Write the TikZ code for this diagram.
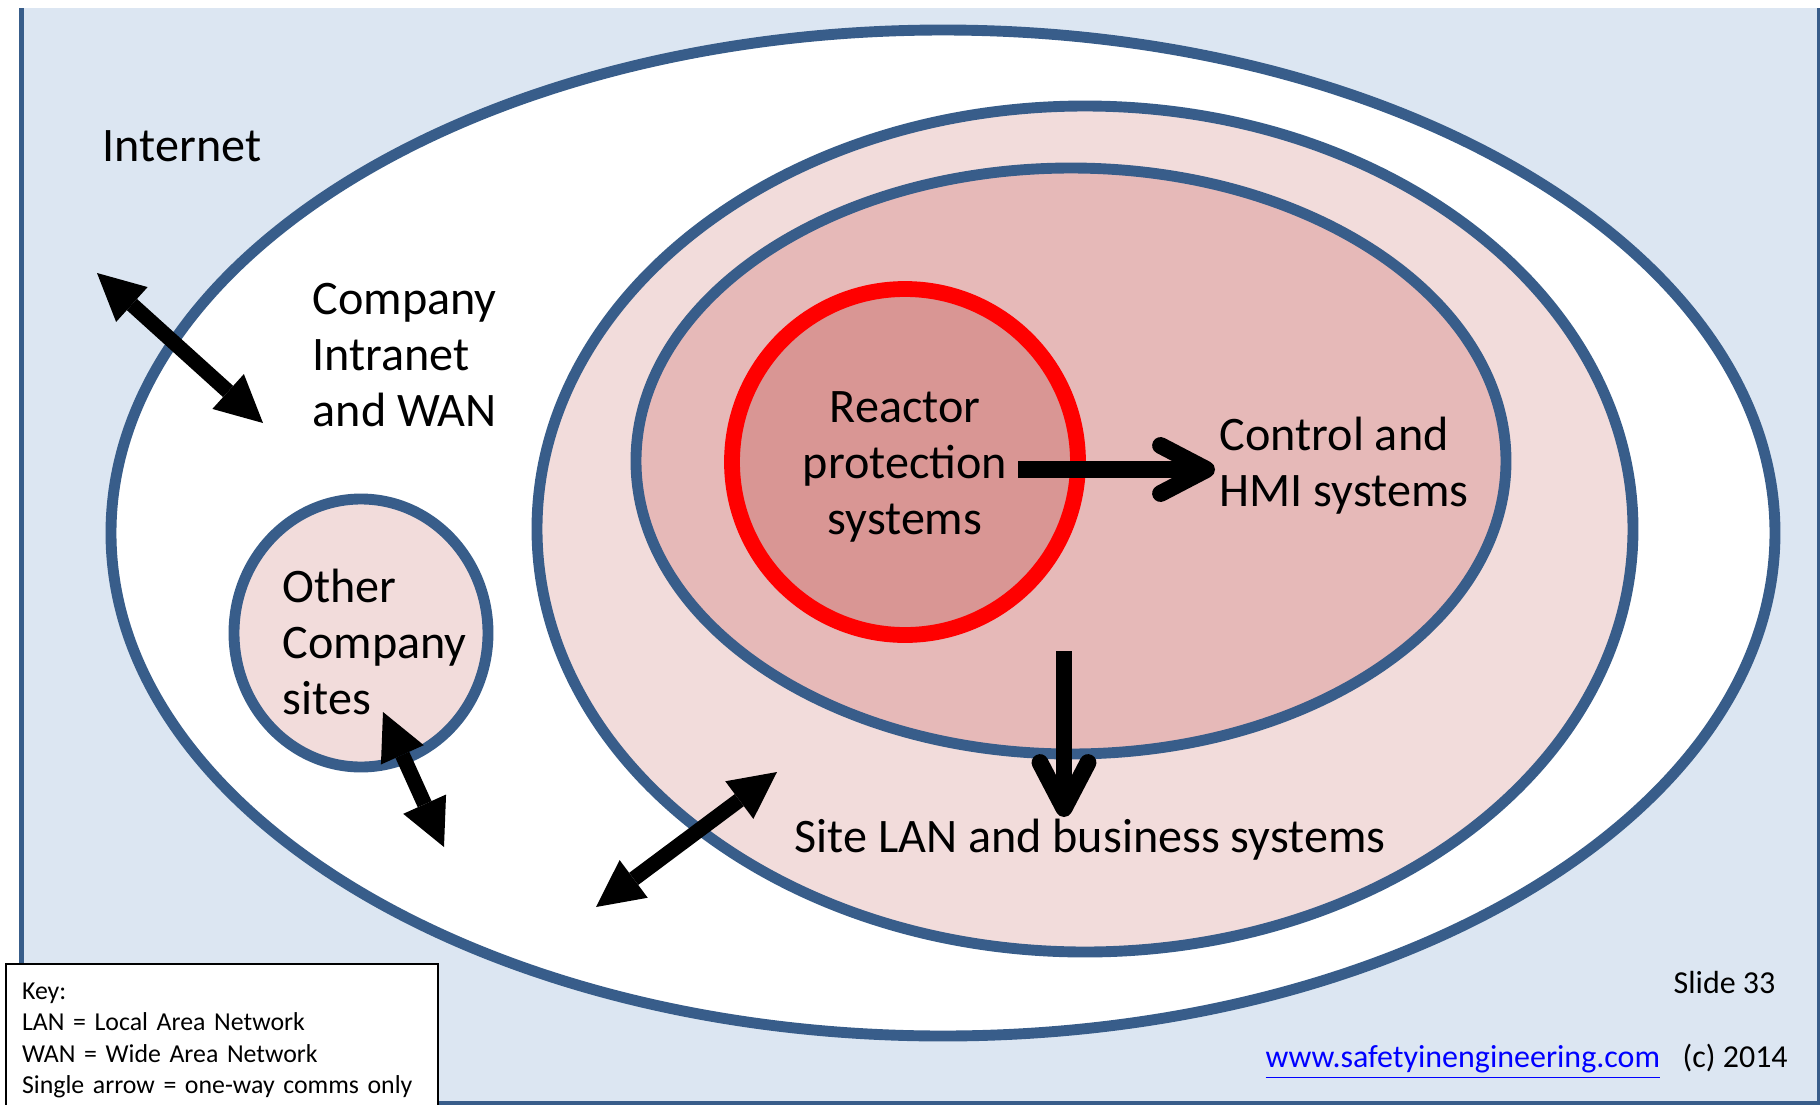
\documentclass[tikz,border=0pt]{standalone}
\usepackage{fontspec}
\setmainfont{Carlito}
\usepackage{tikz}
\usetikzlibrary{arrows.meta, positioning, shapes.geometric}
\definecolor{slideblue}{RGB}{220,230,242}
\definecolor{ringblue}{RGB}{56,93,138}
\definecolor{lanpink}{RGB}{242,220,219}
\definecolor{hmipink}{RGB}{230,185,184}
\definecolor{rpspink}{RGB}{217,150,148}

\begin{document}
\begin{tikzpicture}[x=1cm, y=-1cm,
    zone/.style={ellipse, draw=ringblue, line width=3.1pt, inner sep=0pt},
    lbl/.style={font=\fontsize{13.7}{15.9}\selectfont, inner sep=0pt},
    small/.style={font=\fontsize{9.1}{10.9}\selectfont, inner sep=0pt},
    dbl/.style={{Triangle[length=4.7mm,width=4.7mm,line width=0pt]}-{Triangle[length=4.7mm,width=4.7mm,line width=0pt]}, line width=4.3pt},
    one/.style={-{Straight Barb[round,length=4.6mm,width=4.8mm]}, line width=4.8pt}
  ]
  \useasboundingbox (0,0) rectangle (18.2,11.05);
  \fill[slideblue] (0.215,0.08) rectangle (18.19,11.03);
  \draw[ringblue, line width=1.4pt] (0.215,0.08) -- (0.215,11.03) -- (18.19,11.03) -- (18.19,0.08);

  % nested zones
  \node[zone, fill=white, minimum width=16.64cm, minimum height=10.06cm] (wan) at (9.43,5.33) {};
  \node[zone, fill=lanpink, minimum width=10.96cm, minimum height=8.46cm] (lan) at (10.85,5.29) {};
  \node[zone, fill=hmipink, minimum width=8.70cm, minimum height=5.86cm] (hmi) at (10.71,4.61) {};
  \node[circle, draw=red, fill=rpspink, line width=4.5pt, minimum size=3.46cm, inner sep=0pt] (rps) at (9.05,4.62) {};
  \node[zone, fill=lanpink, minimum width=2.54cm, minimum height=2.68cm] (sites) at (3.61,6.33) {};

  \node[lbl, anchor=west] (tInternet) at (1.02,1.46) {Internet};
  \node[lbl, anchor=west, align=left] (tWan) at (3.12,3.55) {Company\\Intranet\\and WAN};
  \node[lbl, anchor=west, align=left] (tSites) at (2.82,6.42) {Other\\Company\\sites};
  \node[lbl, align=center] (tRps) at (9.05,4.67) {Reactor\\protection\\systems};
  \node[lbl, anchor=west, align=left] (tHmi) at (12.19,4.66) {Control and\\HMI systems};
  \node[lbl] (tLan) at (10.90,8.40) {Site LAN and business systems};

  % comms arrows
  \coordinate (inetEnd) at (0.97,2.73);
  \coordinate (wanEnd) at (2.63,4.23);
  \draw[dbl] (inetEnd) -- (wanEnd);
  \coordinate (lanEnd) at (7.77,7.72);
  \coordinate (wanEnd2) at (5.96,9.07);
  \draw[dbl] (lanEnd) -- (wanEnd2);
  \coordinate (sitesEnd) at (3.83,7.12);
  \coordinate (wanEnd3) at (4.44,8.47);
  \draw[dbl] (sitesEnd) -- (wanEnd3);
  \coordinate (rpsOut) at (10.18,4.695);
  \coordinate (hmiIn) at (12.15,4.695);
  \draw[one] (rpsOut) -- (hmiIn);
  \coordinate (hmiOut) at (10.64,6.51);
  \coordinate (lanIn) at (10.64,8.17);
  \draw[one] (hmiOut) -- (lanIn);

  \node[draw=black, line width=0.6pt, fill=white, anchor=north west, text width=4.0cm,
    inner xsep=0.16cm, inner ysep=0.19cm, align=left,
    font=\fontsize{7.35}{8.9}\selectfont] (key) at (0.05,9.63)
    {Key:\\LAN = Local Area Network\\WAN = Wide Area Network\\Single arrow = one-way comms only};

  \node[small, anchor=base west] (slide) at (16.73,9.93) {Slide 33};
  \node[small, anchor=base west, text=blue] (url) at (12.65,10.67) {\underline{www.safetyinengineering.com}};
  \node[small, anchor=base west] (year) at (16.82,10.67) {(c) 2014};
\end{tikzpicture}
\end{document}
